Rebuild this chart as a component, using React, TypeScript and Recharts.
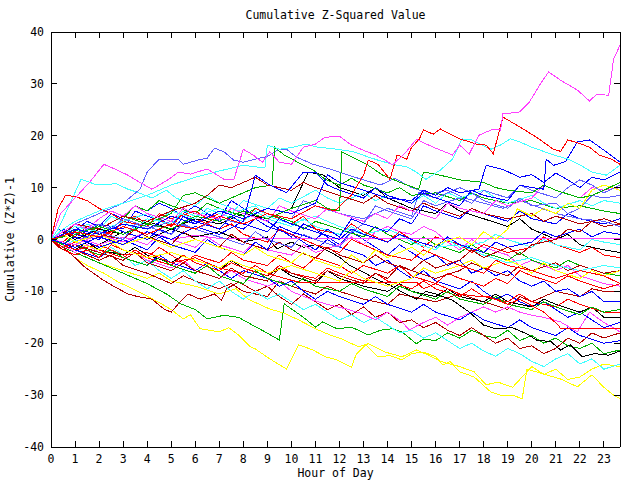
import React from 'react'
import { LineChart, Line, XAxis, YAxis } from 'recharts'

// hour-of-day ticks and value ticks
const hourTicks = [0, 1, 2, 3, 4, 5, 6, 7, 8, 9, 10, 11, 12, 13, 14, 15, 16, 17, 18, 19, 20, 21, 22, 23]
const valueTicks = [-40, -30, -20, -10, 0, 10, 20, 30, 40]
const lastHour = 23.67

// each series: [hour, cumulative value]
const magentaTop = [[0,0],[0.4,5],[1,8],[1.6,11],[2.2,14.5],[2.7,13.5],[3.2,12.4],[3.7,11],[4.2,9.7],[4.9,11.6],[5.3,13],[5.8,12.6],[6.5,13.6],[7.2,11.6],[7.6,11.5],[8,17.4],[8.4,16.3],[8.8,14.9],[9.1,16.9],[9.5,14.9],[10,14.5],[10.5,17.8],[11,18.4],[11.4,19.7],[12,19.9],[12.5,18.2],[13,17.2],[13.5,16.3],[13.9,15.3],[14.2,14.4],[14.7,16.5],[15.2,19.3],[15.9,17.8],[16.7,16.3],[17,18.2],[17.4,16.5],[17.8,20.1],[18.4,21.3],[18.7,21.1],[18.8,24.2],[19.5,24.6],[19.9,26.5],[20.4,30.3],[20.7,32.3],[21.2,30.7],[21.9,28.8],[22.4,26.7],[22.7,28],[23.2,27.8],[23.4,34.7],[23.67,37.5]]
const redHigh = [[0,0],[1,1.5],[2,0.5],[3,2.5],[4,1],[5,3],[6,2],[7,4.5],[8,3],[9,5],[10,4],[11,6.5],[11.8,5.5],[12.5,8.6],[13,12.4],[13.2,15.3],[13.6,14.5],[14.1,11.6],[14.4,16.3],[14.8,15.5],[15,17.8],[15.3,19.2],[15.5,21.1],[15.9,20.3],[16.2,21.3],[16.7,20.1],[17,19.4],[17.7,18.4],[18.1,18.2],[18.4,16.5],[18.8,23.6],[19.5,21.7],[20.2,19.7],[20.9,17.4],[21.2,17],[21.5,19.2],[22,18.5],[22.4,17.8],[22.8,16.3],[23.3,15.5],[23.67,14.5]]
const cyanHigh = [[0,0],[0.5,2],[1,3.5],[2,5.5],[3,7],[4,8.5],[5,10.5],[6,12],[7,13.2],[8,14.3],[8.9,13.8],[9,18.2],[9.5,17.4],[10.1,17.8],[10.6,18.4],[11.1,17.8],[11.9,17.4],[12.6,16.9],[13.2,15.9],[13.6,15.3],[14.2,14.5],[14.8,14],[15.2,13],[15.6,11.6],[16.2,13.4],[16.7,15.5],[17.1,19.4],[17.5,19.2],[18.3,17.4],[18.7,18.2],[19.1,19.4],[19.5,18.8],[20,17.8],[20.9,16.3],[21.5,15.5],[22,14.4],[22.5,13],[23.1,12.4],[23.67,14.3]]
const slateHigh = [[0,0],[0.5,1.5],[1,3],[2,5],[3,7],[3.7,9.7],[4,13],[4.5,15.5],[5.3,15.5],[5.5,14.5],[6.1,15.3],[6.5,15.7],[6.8,17.6],[7.2,16.9],[7.6,15.3],[8,14.9],[8.5,15.5],[9,16],[9.4,17.2],[9.8,17.4],[10.2,15.9],[10.9,14.5],[11.6,13.6],[12.3,12.5],[13,11.5],[13.7,10.5],[14.3,11.8],[15,10],[15.8,8.8],[16.5,9.5],[17.2,8],[18,7],[18.8,6],[19.5,7.5],[20.3,6.2],[21,5],[22,4],[23,3.5],[23.67,2.5]]
const cyanEarly = [[0,0],[0.3,2],[0.7,6],[1.25,11.6],[1.8,10.7],[2.2,10.5],[2.7,10.8],[3.2,9.7],[3.6,9.1],[4.2,8],[4.8,9.5],[5.2,8],[6,6.5],[6.5,8.5],[7,7],[7.8,5.5],[8.5,6.5],[9,4.5],[10,3],[11,4.5],[12,2.5],[13,1],[14,2],[15,0],[16,-1.5],[17,-1],[18,-3],[19,-4.5],[20,-3.5],[21,-5],[22,-6],[23,-5],[23.67,-5.5]]
const redEarly = [[0,0],[0.3,6],[0.6,8.5],[1,8.3],[1.5,7.5],[2,6],[2.5,5],[3,3.5],[3.5,4.5],[4,3],[4.5,4],[5,2.5],[5.5,5],[6,4],[7,2],[7.5,3],[8,1],[9,-0.5],[9.5,2],[10,1],[11,-1],[12,-2.5],[12.5,0],[13,-1],[14,-3],[15,-4],[15.5,-2],[16,-3],[17,-5],[18,-6.5],[18.5,-4],[19,-5],[20,-6],[21,-7.5],[22,-6],[23,-7],[23.67,-8.5]]
const greenJump9 = [[0,0],[0.5,1],[1,3],[2,2],[3,4.5],[4,3],[5,5],[5.5,8.5],[6,9],[6.5,8],[7,7],[8,9],[8.5,10],[9.2,10.5],[9.3,17.8],[9.7,16.3],[10.5,14.3],[10.9,13.4],[11.4,11.6],[12,10.5],[12.5,11.8],[13,10.5],[14,9],[14.5,10],[15,8.5],[16,9],[17,7.5],[17.5,9],[18,8],[19,7],[20,7.5],[21,6],[22,6.5],[23,5.5],[23.67,5]]
const greenJump12 = [[0,0],[0.5,-1],[1,1],[2,2.5],[3,1],[4,3],[5,2],[6,4.5],[7,3.5],[8,5.5],[9,4],[10,6],[11,7.5],[11.5,6],[12,5.5],[12.1,16.9],[12.7,15.5],[13.2,14.3],[13.8,12.4],[14.8,10.5],[15.3,9.7],[15.5,13],[16,12.6],[17,11.5],[18,11],[18.5,10],[19,9.5],[20,9],[20.5,10.5],[21,9.5],[22,8],[22.5,8.5],[23,9.5],[23.67,11]]
const blueLate = [[0,0],[1,-1.5],[2,0.5],[3,-1],[4,1.5],[5,0],[6,2.5],[7,1],[8,3.5],[8.5,12.4],[9.1,10.5],[9.8,9],[10.5,13],[11,13],[11.5,10.5],[12,9.5],[13,8],[13.5,10],[14,8.5],[15,7],[15.5,9],[16,8],[17,6.5],[17.5,9.5],[18,8.5],[19,7.5],[19.5,10.5],[20,10],[20.5,9.7],[20.6,15.5],[20.9,14.3],[21.4,15],[21.9,18.8],[22.4,19.2],[23.1,16.9],[23.67,14.9]]
const blueMid = [[0,0],[1,2],[2,1],[3,3],[4,2],[5,4.5],[6,3],[7,5.5],[8,4],[9,6],[10,5],[11,7],[11.5,12.5],[12,11],[13,9.5],[14,8],[15,7.5],[15.5,9.5],[16,8.5],[16.5,10],[17,9],[17.8,9.7],[18.1,14.3],[18.8,13.5],[19.5,12],[20,12.5],[20.5,11],[21,12.8],[21.5,11.5],[22,10],[22.5,12],[23,11.5],[23.67,13]]
const yellowLow = [[0,0],[0.5,-1.5],[1,-3.5],[1.5,-5],[2.2,-6.5],[2.8,-8.2],[3.4,-9.5],[3.9,-10.7],[4.6,-12.4],[5,-13.5],[5.5,-15.3],[5.8,-14.5],[6.2,-17.2],[7,-17.8],[7.4,-17],[7.8,-18.4],[8.3,-20.7],[8.5,-21.1],[9.1,-23],[9.8,-25],[10.3,-20.3],[10.9,-21.3],[11.4,-22.6],[11.9,-23.2],[12.5,-24.6],[12.7,-22.1],[13.1,-20.3],[13.6,-22.6],[14.1,-22.4],[14.6,-23.2],[15,-22],[15.5,-21.7],[16,-22.6],[16.3,-24.2],[16.6,-23.5],[17,-25.5],[17.6,-26.5],[18.3,-29.4],[18.7,-30],[19.2,-30],[19.6,-30.7],[19.8,-25],[20.4,-25.8],[21.2,-26.9],[21.9,-28.4],[22.5,-26.1],[23,-28.5],[23.4,-30],[23.67,-30.7]]
const yellowLow2 = [[0,0],[0.5,-1],[1,-2.5],[2,-4.5],[3,-6],[4,-7.5],[4.5,-6.5],[5,-8],[6,-9],[7,-10.5],[7.7,-9.5],[8.2,-11.5],[9.1,-13.4],[9.7,-14.2],[10.3,-15.5],[11,-17.2],[11.6,-18.4],[12.1,-19.2],[12.8,-20.7],[13.2,-20.1],[13.9,-21.7],[14.6,-22.6],[15.2,-21.3],[15.6,-22.1],[16.2,-23.5],[17,-24.5],[17.6,-25.5],[18.1,-28],[18.6,-27.5],[19.2,-28.5],[19.5,-27],[20,-24.5],[20.5,-26],[21,-25],[21.5,-27],[22,-26.5],[22.5,-25],[23,-24],[23.67,-24.5]]
const greenLow = [[0,0],[0.5,-1.5],[1,-2.5],[2,-4.5],[3,-6.5],[4,-8.5],[4.8,-10.5],[5.4,-12.4],[6,-13.5],[6.5,-15.3],[7.2,-14.6],[7.8,-15],[8.3,-16.3],[8.9,-17.8],[9.5,-19.4],[9.7,-12.4],[10.5,-15],[11,-16.9],[11.3,-15.9],[11.9,-17.2],[12.5,-16.9],[13.2,-18.4],[13.7,-17.5],[14.2,-17.2],[14.6,-17.8],[15.2,-20.1],[15.5,-19.2],[16,-19.5],[16.5,-18],[17,-19],[17.5,-17.5],[18,-18.5],[18.5,-19],[19,-17.5],[19.5,-19.5],[20,-18.5],[20.5,-20],[21,-19],[21.5,-20.5],[22,-21],[22.5,-20],[23,-22],[23.67,-21.3]]
const darkRedLow = [[0,0],[0.5,-1.5],[1,-3.5],[1.4,-5.3],[2.1,-7.6],[2.6,-9],[3.2,-10.5],[3.6,-11],[4.2,-11.5],[4.7,-13.4],[5,-14],[5.3,-12.4],[5.7,-10.5],[6.2,-11.5],[6.8,-10.5],[7.1,-11.7],[7.3,-9.5],[7.8,-8.2],[8.5,-10],[9,-9],[9.5,-11],[10,-12.5],[10.5,-10.5],[11,-12],[11.5,-13.5],[12,-12.5],[12.5,-14.5],[13,-13],[13.5,-15],[14,-14],[14.5,-16],[15,-15.5],[15.5,-17],[16,-16],[16.5,-17.5],[17,-18.5],[17.5,-17],[18,-18.5],[18.5,-20],[19,-19],[19.5,-21],[20,-20.5],[20.5,-22],[21,-21],[21.5,-19],[22,-20],[22.5,-18],[23,-19],[23.67,-18]]
const darkRedMid = [[0,0],[0.5,-1],[1,-2],[2,-4],[2.5,-3],[3,-5],[4,-6.5],[5,-8.5],[5.5,-7],[6,-8],[7,-9.5],[7.5,-8.5],[8,-10],[9,-11],[9.5,-8],[10,-9],[11,-10.5],[11.5,-9],[12,-10],[13,-11.5],[14,-12.5],[14.5,-10.5],[15,-11],[16,-12],[17,-10.5],[18,-12],[19,-13.5],[19.5,-11],[20,-12],[21,-10],[22,-11],[22.5,-9.5],[23,-10],[23.67,-10]]
const blackLow = [[0,0],[0.5,-1],[1,0.5],[2,-1],[3,1.5],[4,0],[5,2],[6,0.5],[7,1.5],[8,-0.5],[9,0.5],[9.4,-1.8],[10,-0.5],[10.5,-1.5],[11,-1],[11.6,-2.4],[12,-3.4],[12.4,-4.9],[13,-6.3],[13.5,-7.6],[14.1,-8.8],[14.6,-10.1],[15.2,-11.5],[15.6,-10],[16,-10.5],[16.7,-11.7],[17.4,-14],[18,-16.5],[18.5,-17.2],[19.2,-17],[19.8,-18.2],[20.2,-19.4],[20.8,-19.7],[21.2,-21.3],[21.6,-20.3],[22.1,-22.6],[22.6,-22],[23.2,-22.3],[23.67,-21.5]]
const blackPeak = [[0,0],[0.5,1.5],[1,0],[2,2],[3,1],[4,3.5],[5,2],[6,4],[7,3],[8,5],[9,4],[10,6],[10.7,13],[11.3,12.5],[12,10],[13,8.5],[13.5,10],[14,8],[15,6],[16,5],[16.5,7],[17,5.5],[18,4],[19,2.5],[19.5,4],[20,2],[21,0],[21.5,1],[22,-1],[23,-2],[23.67,-2.5]]
const magentaFlat = [[0,0],[1,-1],[2,1],[3,-0.5],[4,1.5],[5,0],[6,0.8],[7,0.2],[23.67,0.2]]
const redFlat = [[0,0],[1,-2],[2,-1],[3,-3],[4,-2.5],[5,-4.5],[6,-3.5],[7,-5.5],[8,-6.5],[8.5,-5],[9,-6.5],[9.7,-7.5],[10.3,-8.2],[15.2,-8.2],[15.5,-9.5],[16,-8.5],[17,-10.5],[17.8,-11],[18.2,-11],[19,-12.5],[19.5,-11.5],[20.5,-14],[21.1,-16.5],[21.2,-17.2],[23.67,-17.2]]
const blueDown = [[0,0],[0.3,2],[0.8,1],[1.5,3.5],[2,2.5],[2.5,5],[3,4],[3.5,6.5],[4,5.5],[4.5,7],[5,6],[5.5,4.5],[6,3],[6.5,5],[7,4],[7.5,7.5],[8,6],[8.5,4.5],[9,3.5],[9.5,2],[10,0.5],[10.5,3],[11,2],[11.5,0.5],[12,-1],[12.5,1.5],[13,0],[13.5,-1.5],[14,-3],[14.5,-1],[15,-2.5],[15.5,-4],[16,-3],[16.5,-5],[17,-4],[17.5,-6.5],[18,-5.5],[18.5,-7],[19,-6],[19.5,-8],[20,-9],[20.5,-8],[21,-10],[21.5,-9.5],[22,-11],[22.5,-10],[23,-12],[23.67,-12]]
const cyanLow = [[0,0],[0.5,-1.5],[1,0],[1.5,-2],[2,-3.5],[2.5,-1.5],[3,-3],[3.5,-5],[4,-4],[4.5,-6],[5,-7.5],[5.5,-6],[6,-8],[6.5,-9.5],[7,-8],[7.5,-10],[8,-11.5],[8.5,-10],[9,-11.5],[9.5,-10.5],[10,-12],[10.5,-13.5],[11,-12.5],[11.5,-14],[12,-15.5],[12.5,-14.5],[13,-16],[13.5,-15],[14,-16.5],[14.5,-18],[15,-17.5],[15.5,-19],[16,-18],[16.5,-19.5],[17,-21],[17.5,-20],[18,-21.5],[18.5,-22.5],[19,-21],[19.5,-22],[20,-23.5],[20.5,-24.5],[21,-23],[21.5,-22],[22,-24],[22.5,-23],[23,-25],[23.67,-24]]
const magentaLow = [[0,0],[0.5,-1],[1,-2.5],[1.5,-1],[2,-2.5],[3,-4],[3.5,-2.5],[4,-4],[5,-5.5],[5.5,-4],[6,-6],[7,-7.5],[7.5,-6],[8,-7.5],[9,-9],[9.5,-8],[10,-10],[10.9,-11.7],[11.5,-12.5],[12.3,-13.4],[13,-14.4],[13.5,-15.5],[14,-14],[14.6,-15.9],[14.9,-17.4],[15.5,-16],[16,-15],[16.5,-16.5],[17,-15],[17.5,-14],[18,-13],[18.5,-14],[19,-13],[19.5,-14],[20,-14.6],[20.5,-15],[21.2,-15.9],[21.9,-17.8],[22.4,-14],[23,-16],[23.67,-17.8]]
const slateMid = [[0,0],[0.5,1],[1,-0.5],[2,1.5],[3,0],[3.5,3],[4,2],[5,3.5],[6,2],[7,4],[8,3],[9,5],[10,4],[10.5,7.5],[11,6.5],[12,5],[13,4],[14,6],[15,4.5],[15.3,9],[16,8],[17,10],[17.5,9],[18,7.5],[19,6],[19.5,8],[20,6.5],[21,7],[21.5,5],[22,6],[22.5,8.5],[23,8],[23.67,8.5]]
const redMid = [[0,0],[0.5,-0.5],[1,1.5],[1.5,0],[2,2],[2.5,1],[3,3.5],[4,2.5],[4.5,5],[5,4],[6,5.5],[6.5,4],[7,5],[8,3.5],[8.5,6],[9,5],[10,3],[10.5,4.5],[11,2],[12,1],[12.5,3],[13,1.5],[14,-0.5],[14.5,1.5],[15,0],[15.5,-1.5],[16,0.5],[17,-1],[17.5,-2.5],[18,-1],[19,-2.5],[20,-1.5],[20.5,0.5],[21,-1],[22,-2.5],[22.5,-1.5],[23,-3],[23.67,-3.5]]
const redMid2 = [[0,0],[0.3,-1.5],[1,-3],[1.5,-2],[2,-3.5],[2.5,-1],[3,-2],[4,-3.5],[4.5,-1.5],[5,-3],[5.5,-4.5],[6,-3],[7,-4.5],[7.5,-2.5],[8,-4],[9,-5],[9.5,-3],[10,-4.5],[10.5,-5.5],[11,-3.5],[12,-5],[12.5,-6.5],[13,-5],[14,-6.5],[14.5,-5],[15,-7],[16,-8.5],[16.5,-6.5],[17,-7.5],[18,-9],[18.5,-7.5],[19,-8.5],[19.5,-6],[20,-7],[21,-8.5],[21.5,-7],[22,-8],[23,-9.5],[23.67,-8.5]]
const darkRedRise = [[0,0],[0.5,1.5],[1,0.5],[1.5,2.5],[2,1],[3,0],[3.5,2],[4,0.5],[5,-1],[5.5,1.5],[6,0],[7,-1.5],[7.5,1],[8,-0.5],[9,-2],[9.5,-0.5],[10,-2],[11,-3.5],[11.5,-1.5],[12,-3],[13,-4.5],[13.5,-3],[14,-4.5],[15,-6],[15.5,-4],[16,-5.5],[17,-4],[17.5,-2],[18,-3.5],[19,-1.5],[19.5,-3],[20,-1],[21,0],[21.5,2],[22,1.5],[22.5,3.5],[23,2.5],[23.67,3]]
const greenMidLow = [[0,0],[0.5,-2],[1,-1],[2,-3],[2.5,-2],[3,-3.5],[4,-5],[4.5,-3.5],[5,-5],[6,-6.5],[6.5,-5],[7,-7],[8,-8.5],[8.5,-6],[9,-7.5],[10,-9],[10.5,-7.5],[11,-9],[12,-10],[12.5,-8.5],[13,-9.5],[14,-11],[14.5,-9],[15,-10],[16,-11.5],[16.5,-10],[17,-11.5],[18,-12.5],[18.5,-11],[19,-12.5],[20,-13.5],[20.5,-12],[21,-13],[22,-14.5],[22.5,-13],[23,-14],[23.67,-13.5]]
const cyanMid = [[0,0],[0.5,2],[1,1],[1.5,3],[2,2],[2.5,4.5],[3,3.5],[4,5],[4.5,3.5],[5,5.5],[6,4],[6.5,6],[7,5],[8,3.5],[8.5,5.5],[9,4],[10,2.5],[10.5,4],[11,2.5],[12,1],[12.5,2.5],[13,1],[14,-0.5],[14.5,1],[15,-0.5],[16,-2],[16.5,0],[17,-1.5],[18,-0.5],[18.5,1],[19,0],[20,-1.5],[20.5,0],[21,-1],[22,-2],[22.5,0],[23,-0.5],[23.67,-1]]
const yellowMid = [[0,0],[0.5,1],[1,-0.5],[2,-2],[2.5,-0.5],[3,-2],[4,-3.5],[5,-2.5],[6,-4],[7,-5.5],[7.5,-4],[8,-5],[9,-6.5],[10,-5],[11,-6.5],[12,-8],[12.5,-6],[13,-7.5],[14,-9],[15,-7.5],[15.5,-5.5],[16,-6.5],[17,-5],[17.5,-4],[18,-5.5],[19,-4],[19.5,-5],[20,-6.5],[20.5,-4.5],[21,-6],[22,-7.5],[22.5,-6],[23,-7],[23.67,-6]]
const blackMid = [[0,0],[0.5,-1],[1,-2],[1.5,-0.5],[2,-2],[3,-3],[3.5,-1.5],[4,-3],[5,-4.5],[5.5,-3],[6,-4.5],[7,-6],[7.5,-4],[8,-5.5],[9,-7],[9.5,-5.5],[10,-7],[11,-8.5],[11.5,-6],[12,-7.5],[13,-9],[14,-10],[14.5,-8.5],[15,-10],[16,-11],[16.5,-9.5],[17,-11],[18,-12],[18.5,-10.5],[19,-12],[20,-13],[20.5,-11.5],[21,-12.5],[22,-14],[22.5,-13],[23,-15],[23.67,-15]]
const blueFall = [[0,0],[0.5,1],[1,2.5],[1.5,1],[2,3],[3,2],[3.5,5.5],[4,4.5],[5,3],[5.5,5],[6,6.5],[6.5,5],[7,3.5],[8,2],[8.5,4],[9,2.5],[10,1],[10.5,-0.5],[11,-2],[11.5,0],[12,-1.5],[13,-3],[13.5,-5],[14,-4],[14.5,-6],[15,-7.5],[15.5,-6],[16,-8],[17,-9.5],[17.5,-8],[18,-10],[18.5,-11.5],[19,-10.5],[19.5,-12],[20,-13],[20.5,-12],[21,-13.5],[21.5,-15],[22,-14],[22.5,-15.5],[23,-17],[23.67,-16]]
const blueLow = [[0,0],[0.5,-0.5],[1,-2],[2,-3.5],[2.5,-2],[3,-3.5],[4,-5],[4.5,-3],[5,-4.5],[6,-6],[6.5,-4.5],[7,-6],[7.5,-7.5],[8,-6],[9,-7.5],[9.5,-9],[10,-8],[10.5,-10],[11,-11.5],[11.5,-10],[12,-11],[13,-12.5],[13.5,-11],[14,-12.5],[15,-14],[15.5,-12.5],[16,-14],[17,-15.5],[17.5,-14],[18,-15.5],[19,-17],[19.5,-15.5],[20,-17],[21,-18.5],[21.5,-17],[22,-18.5],[23,-20],[23.67,-19.5]]
const magentaMid = [[0,0],[0.5,1.5],[1,3],[1.5,2],[2,4],[2.5,5.5],[3,4.5],[3.5,6.5],[4,5],[5,3.5],[5.5,6],[6,5],[7,4],[7.5,6],[8,5],[9,3.5],[9.5,6.5],[10,5.5],[11,4],[11.5,6],[12,5],[13,3.5],[13.5,5],[14,4],[14.5,6.5],[15,5.5],[16,4],[16.5,7],[17,6],[18,5],[18.5,7.5],[19,6.5],[20,8],[20.5,10.5],[21,9.5],[22,8],[22.5,10],[23,9.5],[23.67,10]]
const magentaWave = [[0,0],[0.5,-1],[1,0.5],[2,-1],[3,0.5],[4,-1],[4.5,1],[5,0],[6,-1.5],[6.5,0.5],[7,-1],[8,-2.5],[8.5,-0.5],[9,-2],[10,-3],[10.5,-1],[11,-2.5],[12,-1],[12.5,0.5],[13,-1],[13.5,1.5],[14,2.5],[14.5,1.5],[15,1],[15.5,2.5],[16,1.5],[16.5,-0.5],[17,-2],[17.5,0],[18,-1.5],[19,-3],[19.5,-5],[20,-4],[21,-6],[21.5,-5],[22,-7],[23,-8.5],[23.67,-9]]
const greenMid = [[0,0],[0.5,0.5],[1,2],[1.5,0.5],[2,3],[2.5,2],[3,4],[3.5,6.5],[4,5.5],[4.5,7.5],[5,6.5],[6,5],[6.5,7],[7,6],[8,4.5],[8.5,6],[9,5],[10,3.5],[10.5,2],[11,3.5],[12,2],[13,0.5],[13.5,2.5],[14,1],[15,-1],[15.5,0.5],[16,-1],[17,-2.5],[17.5,-1],[18,-2.5],[19,-4],[19.5,-2.5],[20,-4],[21,-5.5],[21.5,-4],[22,-5],[23,-6.5],[23.67,-7]]
const darkRedWave = [[0,0],[0.5,-2],[1,-1],[2,-2.5],[3,-4],[3.5,-2.5],[4,-4.5],[5,-6],[5.5,-4.5],[6,-6],[7,-7.5],[7.5,-5.5],[8,-7],[9,-8],[9.5,-5.5],[10,-6.5],[11,-8],[11.5,-6],[12,-7],[13,-8.5],[13.5,-6.5],[14,-7.5],[14.5,-5],[15,-6],[16,-7.5],[17,-6],[17.5,-4.5],[18,-5.5],[19,-7],[19.5,-5],[20,-6],[21,-4.5],[21.5,-6],[22,-5],[23,-6.5],[23.67,-6]]
const yellowRise = [[0,0],[0.5,1],[1,-0.5],[2,1],[3,-1],[4,0.5],[5,-1.5],[6,0],[7,-1.5],[8,-3],[8.5,-1.5],[9,-3],[10,-4.5],[10.5,-2.5],[11,-4],[12,-5.5],[12.5,-3],[13,-4.5],[13.5,-2],[14,-3.5],[15,-1.5],[15.5,-3],[16,-1],[17,0.5],[17.5,-1],[18,1.5],[18.5,0],[19,2],[19.4,5.9],[20,4.5],[20.5,6],[21,5],[21.5,7],[22,6],[22.5,9.5],[23,10.5],[23.67,9.5]]
const blueRise = [[0,0],[0.5,-1],[1,0.5],[2,-1.5],[3,0],[4,-2],[4.5,0.5],[5,-1],[6,-2.5],[6.5,0],[7,-1.5],[8,-3],[8.5,-0.5],[9,-2],[9.5,2.5],[10,1.5],[11,0],[11.5,2],[12,0.5],[12.5,4],[13,3],[14,1.5],[14.5,4],[15,3],[15.5,6.5],[16,5.5],[17,4],[17.5,6],[18,5],[19,3.5],[19.5,5.5],[20,4],[21,3],[21.5,5],[22,4],[23,3],[23.67,4]]
const blueFlat = [[0,0],[0.5,2],[1,1],[2,0],[2.5,2.5],[3,1.5],[4,0],[4.5,2],[5,1],[5.5,4.5],[6,3.5],[7,2],[7.5,4.5],[8,3],[9,1.5],[9.5,4],[10,3],[11,1.5],[12,0],[12.5,2],[13,1],[14,-0.5],[14.5,1],[15,0],[16,-1.5],[16.5,0.5],[17,-1],[18,-2.5],[18.5,-0.5],[19,-1.5],[20,-0.5],[20.5,1.5],[21,0.5],[22,2],[22.5,0.5],[23,1.5],[23.67,1]]
const cyanSteady = [[0,0],[0.5,1],[1,2.5],[2,1.5],[3,3.5],[3.5,2],[4,4],[5,3],[5.5,5.5],[6,4.5],[7,6],[7.5,5],[8,7.5],[9,6],[9.5,8],[10,7],[11,9.5],[11.5,8],[12,7],[13,9],[13.5,7.5],[14,8.5],[15,7],[15.5,8.5],[16,7],[16.5,9],[17,8],[18,9.5],[18.5,8],[19,7],[20,8.5],[20.5,7],[21,6],[22,7.5],[22.5,6.5],[23,7.5],[23.67,7]]
const redLow = [[0,0],[0.5,-1.5],[1,-0.5],[2,-2],[3,-3.5],[3.5,-2],[4,-3.5],[5,-5],[5.5,-3],[6,-4.5],[7,-6],[7.5,-4.5],[8,-5.5],[9,-7],[9.5,-5],[10,-6.5],[11,-7.5],[11.5,-5.5],[12,-6.5],[13,-8],[13.5,-6.5],[14,-8],[15,-9.5],[15.5,-8],[16,-9.5],[17,-11],[17.5,-9.5],[18,-11],[19,-12],[19.5,-10.5],[20,-12],[21,-13],[21.5,-11.5],[22,-12.5],[23,-14],[23.67,-14]]
const darkRedHigh = [[0,0],[0.5,1],[1,3],[2,2],[3,4.5],[4,3.5],[5,5.5],[6,7],[6.5,8.5],[7,10.5],[7.5,10],[8,11],[8.5,12],[9,10.5],[10,9.5],[10.5,11],[11,10],[12,8.5],[13,7],[13.5,8.5],[14,7],[15,5.5],[15.5,7],[16,6],[17,4.5],[17.5,6],[18,5],[19,4],[20,5],[20.5,3.5],[21,4.5],[22,3],[23,4],[23.67,3]]
const slateLate = [[0,0],[0.5,-1],[1,1],[2,3],[2.5,2],[3,4],[4,2.5],[5,1],[5.5,3],[6,2],[7,0.5],[8,-1],[8.5,1.5],[9,0],[10,-1.5],[10.5,1],[11,0],[12,-1.5],[12.5,1.5],[13,3],[13.5,6.5],[14,5.5],[15,4],[15.5,7.5],[16,6.5],[17,8],[17.5,7],[18,9.5],[19,8],[19.5,10.5],[20,9.5],[21,8],[21.5,10],[22,11.5],[22.5,10.5],[23,9],[23.67,10.5]]

const RED = '#ff0000'
const GREEN = '#00b000'
const BLUE = '#0000ff'
const MAGENTA = '#ff40ff'
const CYAN = '#40ffff'
const DARKRED = '#b00000'
const YELLOW = '#ffff00'
const BLACK = '#000000'
const SLATE = '#6060ff'

const series = [
  { pts: yellowLow, color: YELLOW },
  { pts: yellowLow2, color: YELLOW },
  { pts: greenLow, color: GREEN },
  { pts: darkRedLow, color: DARKRED },
  { pts: darkRedMid, color: DARKRED },
  { pts: cyanLow, color: CYAN },
  { pts: magentaLow, color: MAGENTA },
  { pts: blueLow, color: BLUE },
  { pts: blackLow, color: BLACK },
  { pts: blueFall, color: BLUE },
  { pts: blackMid, color: BLACK },
  { pts: redLow, color: RED },
  { pts: greenMidLow, color: GREEN },
  { pts: redFlat, color: RED },
  { pts: blueDown, color: BLUE },
  { pts: magentaWave, color: MAGENTA },
  { pts: redMid2, color: RED },
  { pts: greenMid, color: GREEN },
  { pts: darkRedWave, color: DARKRED },
  { pts: yellowMid, color: YELLOW },
  { pts: cyanEarly, color: CYAN },
  { pts: redEarly, color: RED },
  { pts: redMid, color: RED },
  { pts: blackPeak, color: BLACK },
  { pts: cyanMid, color: CYAN },
  { pts: magentaFlat, color: MAGENTA },
  { pts: blueFlat, color: BLUE },
  { pts: darkRedRise, color: DARKRED },
  { pts: blueRise, color: BLUE },
  { pts: slateHigh, color: SLATE },
  { pts: greenJump9, color: GREEN },
  { pts: cyanSteady, color: CYAN },
  { pts: slateMid, color: SLATE },
  { pts: darkRedHigh, color: DARKRED },
  { pts: magentaMid, color: MAGENTA },
  { pts: yellowRise, color: YELLOW },
  { pts: slateLate, color: SLATE },
  { pts: greenJump12, color: GREEN },
  { pts: blueMid, color: BLUE },
  { pts: blueLate, color: BLUE },
  { pts: cyanHigh, color: CYAN },
  { pts: redHigh, color: RED },
  { pts: magentaTop, color: MAGENTA },
]

const FONT = '"DejaVu Sans Mono", monospace'
const textStyle = { fontFamily: FONT, fontSize: 11.5, fill: '#000' }

const BottomTick = (p: any) => (
  <g>
    <line x1={p.x} x2={p.x} y1={p.y} y2={p.y - 6} stroke="#000" />
    <text x={p.x} y={p.y + 16} textAnchor="middle" style={textStyle}>{p.payload.value}</text>
  </g>
)
const TopTick = (p: any) => <line x1={p.x} x2={p.x} y1={p.y} y2={p.y + 6} stroke="#000" />
const LeftTick = (p: any) => (
  <g>
    <line x1={p.x} x2={p.x + 6} y1={p.y} y2={p.y} stroke="#000" />
    <text x={p.x - 7} y={p.y + 4} textAnchor="end" style={textStyle}>{p.payload.value}</text>
  </g>
)
const RightTick = (p: any) => <line x1={p.x} x2={p.x - 6} y1={p.y} y2={p.y} stroke="#000" />

const TitleLabel = (p: any) => {
  const vb = p.viewBox
  return <text x={vb.x + vb.width / 2} y={vb.y + vb.height - 13} textAnchor="middle" style={textStyle}>Cumulative Z-Squared Value</text>
}
const XTitle = (p: any) => {
  const vb = p.viewBox
  return <text x={vb.x + vb.width / 2} y={vb.y + 30} textAnchor="middle" style={textStyle}>Hour of Day</text>
}
const YTitle = (p: any) => {
  const vb = p.viewBox
  const cx = vb.x + vb.width - 37
  const cy = vb.y + vb.height / 2
  return <text x={cx} y={cy} transform={`rotate(-90 ${cx} ${cy})`} textAnchor="middle" style={textStyle}>Cumulative (Z*Z)-1</text>
}

export default function App() {
  return (
    <div style={{ position: 'absolute', left: 0, top: 0, background: '#fff', shapeRendering: 'crispEdges' }}>
      <LineChart width={640} height={480} margin={{ top: 31, right: 19, bottom: 32, left: 50 }}>
        <XAxis
          type="number"
          dataKey="h"
          domain={[0, lastHour]}
          ticks={hourTicks}
          interval={0}
          allowDataOverflow
          height={1}
          tickSize={0}
          tickMargin={0}
          tick={BottomTick}
          axisLine={{ stroke: '#000' }}
          label={{ content: XTitle }}
        />
        <XAxis
          xAxisId="top"
          orientation="top"
          type="number"
          dataKey="h"
          domain={[0, lastHour]}
          ticks={hourTicks}
          interval={0}
          allowDataOverflow
          height={1}
          tickSize={0}
          tickMargin={0}
          tick={TopTick}
          axisLine={{ stroke: '#000' }}
          label={{ content: TitleLabel }}
        />
        <YAxis
          type="number"
          domain={[-40, 40]}
          ticks={valueTicks}
          interval={0}
          allowDataOverflow
          width={1}
          tickSize={0}
          tickMargin={0}
          tick={LeftTick}
          axisLine={{ stroke: '#000' }}
          label={{ content: YTitle }}
        />
        <YAxis
          yAxisId="right"
          orientation="right"
          type="number"
          domain={[-40, 40]}
          ticks={valueTicks}
          interval={0}
          allowDataOverflow
          width={1}
          tickSize={0}
          tickMargin={0}
          tick={RightTick}
          axisLine={{ stroke: '#000' }}
        />
        {series.map((s, i) => (
          <Line
            key={i}
            data={s.pts.map(([h, v]) => ({ h, v }))}
            dataKey="v"
            type="linear"
            stroke={s.color}
            strokeWidth={1}
            dot={false}
            activeDot={false}
            isAnimationActive={false}
          />
        ))}
      </LineChart>
    </div>
  )
}
